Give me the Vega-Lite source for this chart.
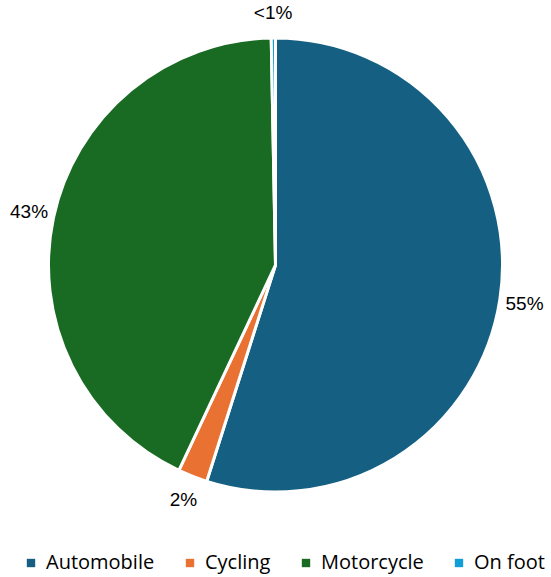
{
  "$schema": "https://vega.github.io/schema/vega-lite/v6.json",
  "width": 551,
  "height": 530,
  "padding": {"left": 0, "top": 0, "right": 0, "bottom": 47},
  "autosize": "none",
  "background": "white",
  "data": {
    "values": [
      {"mode": "Automobile", "share": 54.9, "label": "55%"},
      {"mode": "Cycling", "share": 2.1, "label": "2%"},
      {"mode": "Motorcycle", "share": 42.7, "label": "43%"},
      {"mode": "On foot", "share": 0.3, "label": "<1%"}
    ]
  },
  "encoding": {
    "theta": {"field": "share", "type": "quantitative", "stack": true},
    "order": {"field": "mode", "type": "nominal", "sort": "ascending"}
  },
  "layer": [
    {
      "mark": {"type": "arc", "outerRadius": 227, "stroke": "white", "strokeWidth": 3},
      "encoding": {
        "color": {
          "field": "mode",
          "type": "nominal",
          "scale": {
            "domain": ["Automobile", "Cycling", "Motorcycle", "On foot"],
            "range": ["#156082", "#E97132", "#196B24", "#0F9ED5"]
          },
          "legend": {
            "title": null,
            "orient": "none",
            "legendX": 21,
            "legendY": 553,
            "direction": "horizontal",
            "symbolType": "square",
            "symbolSize": 70,
            "symbolStrokeWidth": 0,
            "labelFont": "Open Sans",
            "labelFontSize": 20,
            "labelOffset": 5,
            "labelColor": "#000000",
            "columnPadding": 25
          }
        }
      }
    },
    {
      "mark": {"type": "text", "radius": 252, "font": "Liberation Sans", "fontSize": 19, "color": "#000000"},
      "encoding": {
        "text": {"field": "label", "type": "nominal"},
        "detail": {"field": "mode", "type": "nominal"}
      }
    }
  ],
  "config": {"view": {"stroke": null}}
}
